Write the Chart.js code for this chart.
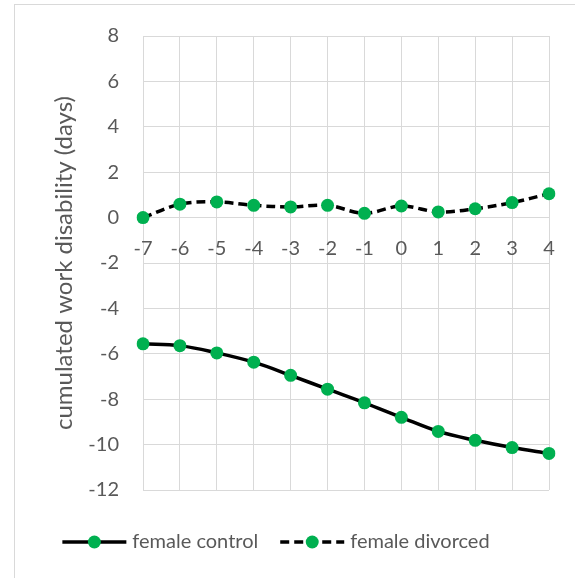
<!DOCTYPE html>
<html>
<head>
<meta charset="utf-8">
<script src="https://cdn.jsdelivr.net/npm/chart.js@4.4.1/dist/chart.umd.min.js"></script>
<style>
  body { margin: 0; background: #fff; }
  #wrap { position: relative; width: 575px; height: 578px; overflow: hidden; }
  #frame { position: absolute; left: 14px; top: 4px; width: 640px; height: 640px; border: 1px solid #d9d9d9; }
  #chart { position: absolute; left: 0; top: 0; }
</style>
</head>
<body>
<div id="wrap">
  <div id="frame"></div>
  <canvas id="chart" width="575" height="578"></canvas>
</div>
<script>
const days = ["-7", "-6", "-5", "-4", "-3", "-2", "-1", "0", "1", "2", "3", "4"];
const femaleControl = [-5.56, -5.64, -5.96, -6.37, -6.95, -7.56, -8.16, -8.80, -9.42, -9.81, -10.13, -10.39];
const femaleDivorced = [0.0, 0.59, 0.69, 0.54, 0.47, 0.54, 0.19, 0.51, 0.25, 0.39, 0.66, 1.05];
const yTicks = [8, 6, 4, 2, 0, -2, -4, -6, -8, -10, -12];

const green = "#00b050";
const textColor = "#595959";
const gridColor = "#d9d9d9";
const fontFamily = "Lato, 'Open Sans', sans-serif";

// legend drawn by hand: line + marker + label, like the spreadsheet legend
const lineLegend = {
  id: "lineLegend",
  afterDraw(chart) {
    const ctx = chart.ctx;
    const y = 542;
    const lineLen = 64;
    const gap = 6;
    const between = 22;
    ctx.save();
    ctx.font = "20px " + fontFamily;
    const widths = chart.data.datasets.map((ds) => lineLen + gap + ctx.measureText(ds.label).width);
    const total = widths.reduce((a, b) => a + b, 0) + between * (widths.length - 1);
    let x = 276 - total / 2;
    chart.data.datasets.forEach((ds, i) => {
      ctx.strokeStyle = ds.borderColor;
      ctx.lineWidth = ds.borderWidth;
      ctx.setLineDash(ds.borderDash || []);
      ctx.beginPath();
      ctx.moveTo(x, y);
      ctx.lineTo(x + lineLen, y);
      ctx.stroke();
      ctx.setLineDash([]);
      ctx.fillStyle = ds.pointBackgroundColor;
      ctx.beginPath();
      ctx.arc(x + lineLen / 2, y, ds.pointRadius, 0, Math.PI * 2);
      ctx.fill();
      ctx.fillStyle = textColor;
      ctx.textBaseline = "middle";
      ctx.textAlign = "left";
      ctx.fillText(ds.label, x + lineLen + gap, y);
      x += widths[i] + between;
    });
    ctx.restore();
  },
};

new Chart(document.getElementById("chart"), {
  type: "line",
  data: {
    labels: days,
    datasets: [
      {
        label: "female control",
        data: femaleControl,
        borderColor: "#000000",
        borderWidth: 3.5,
        pointBackgroundColor: green,
        pointBorderColor: green,
        pointBorderWidth: 0,
        pointRadius: 6.5,
        tension: 0.35,
      },
      {
        label: "female divorced",
        data: femaleDivorced,
        borderColor: "#000000",
        borderWidth: 3.5,
        borderDash: [9, 5],
        pointBackgroundColor: green,
        pointBorderColor: green,
        pointBorderWidth: 0,
        pointRadius: 6.5,
        tension: 0.35,
      },
    ],
  },
  options: {
    responsive: false,
    animation: false,
    layout: {
      padding: { left: 0, right: 26, top: 34, bottom: 88 },
    },
    plugins: {
      legend: { display: false },
      tooltip: { enabled: false },
    },
    scales: {
      x: {
        position: { y: 0 },
        offset: false,
        afterFit: (scale) => { scale.height = 0; },
        grid: { color: gridColor, lineWidth: 1, drawTicks: false },
        border: { display: false },
        ticks: {
          color: textColor,
          font: { family: fontFamily, size: 20 },
          padding: 19,
          maxRotation: 0,
          autoSkip: false,
        },
      },
      y: {
        min: -12,
        max: 8,
        afterFit: (scale) => { scale.width = 143; },
        afterBuildTicks: (scale) => { scale.ticks = yTicks.map((v) => ({ value: v })); },
        grid: { color: gridColor, lineWidth: 1, drawTicks: false },
        border: { display: false },
        ticks: {
          color: textColor,
          font: { family: fontFamily, size: 20 },
          padding: 24,
        },
        title: {
          display: true,
          text: "cumulated work disability (days)",
          color: textColor,
          font: { family: fontFamily, size: 24 },
          padding: { top: 50, bottom: 0 },
        },
      },
    },
  },
  plugins: [lineLegend],
});
</script>
</body>
</html>
